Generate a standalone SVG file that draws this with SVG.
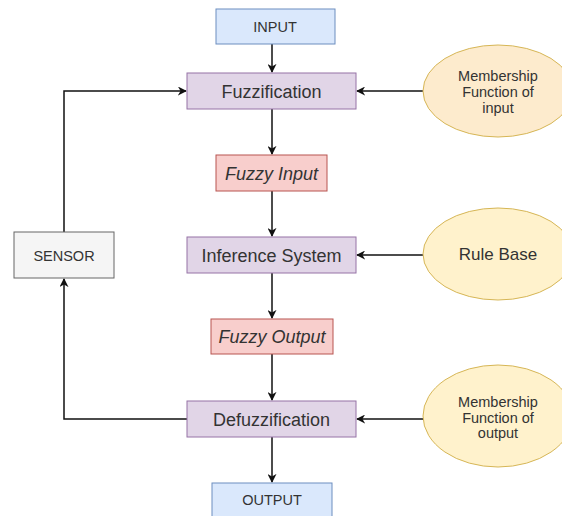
<svg xmlns="http://www.w3.org/2000/svg" width="562" height="516" viewBox="0 0 562 516">
  <style>
    text { font-family: "Liberation Sans", Arial, sans-serif; fill: #333333; text-anchor: middle; }
    .big { font-size: 18px; }
    .small { font-size: 14.5px; }
    .it { font-style: italic; }
    .io { fill: #dae8fc; stroke: #6c8ebf; stroke-width: 1; }
    .proc { fill: #e1d5e7; stroke: #9673a6; stroke-width: 1; }
    .fz { fill: #f8cecc; stroke: #b85450; stroke-width: 1; }
    .src { fill: #fff2cc; stroke: #d6b656; stroke-width: 1; }
    .sensor { fill: #f5f5f5; stroke: #666666; stroke-width: 1; }
    .edge { fill: none; stroke: #111111; stroke-width: 1.5; }
  </style>
  <defs>
    <marker id="arrow" viewBox="0 0 10 10" refX="9" refY="5" markerWidth="9" markerHeight="9" markerUnits="userSpaceOnUse" orient="auto">
      <path d="M0,0 L10,5 L0,10 L3,5 Z" fill="#111111"/>
    </marker>
  </defs>
  <rect width="562" height="516" fill="#ffffff"/>

  <!-- connectors -->
  <g id="connectors" class="edge" marker-end="url(#arrow)">
    <line x1="272" y1="44" x2="272" y2="72"/>
    <line x1="272" y1="109" x2="272" y2="154"/>
    <line x1="272" y1="191" x2="272" y2="236"/>
    <line x1="272" y1="273" x2="272" y2="318"/>
    <line x1="272" y1="354" x2="272" y2="400"/>
    <line x1="272" y1="437" x2="272" y2="482"/>
    <line x1="423" y1="91" x2="357" y2="91"/>
    <line x1="423" y1="255" x2="357" y2="255"/>
    <line x1="423" y1="419" x2="357" y2="419"/>
    <polyline points="64,232 64,91 186,91"/>
    <polyline points="187,419 64,419 64,279"/>
  </g>

  <g id="input">
    <rect class="io" x="216" y="9" width="119" height="35"/>
    <text class="small" x="275" y="31.5">INPUT</text>
  </g>

  <g id="fuzzification">
    <rect class="proc" x="187" y="73" width="169" height="36"/>
    <text class="big" x="271.5" y="97.5">Fuzzification</text>
  </g>

  <g id="fuzzy-input">
    <rect class="fz" x="216" y="155" width="111" height="36"/>
    <text class="big it" x="271.5" y="179.5">Fuzzy Input</text>
  </g>

  <g id="inference">
    <rect class="proc" x="187" y="237" width="169" height="36"/>
    <text class="big" x="271.5" y="261.5">Inference System</text>
  </g>

  <g id="fuzzy-output">
    <rect class="fz" x="211" y="319" width="122" height="35"/>
    <text class="big it" x="272" y="343">Fuzzy Output</text>
  </g>

  <g id="defuzzification">
    <rect class="proc" x="187" y="401" width="169" height="36"/>
    <text class="big" x="271.5" y="425.5">Defuzzification</text>
  </g>

  <g id="output">
    <rect class="io" x="212" y="483" width="120" height="36"/>
    <text class="small" x="272" y="505">OUTPUT</text>
  </g>

  <g id="sensor">
    <rect class="sensor" x="14" y="232" width="100" height="46"/>
    <text class="small" x="64" y="260.5">SENSOR</text>
  </g>

  <g id="mf-input">
    <ellipse class="src" cx="498" cy="91" rx="75" ry="46" style="fill:#fdebcd"/>
    <text class="small" x="498" y="81">Membership</text>
    <text class="small" x="498" y="97">Function of</text>
    <text class="small" x="498" y="112.5">input</text>
  </g>

  <g id="rule-base">
    <ellipse class="src" cx="498" cy="254" rx="75" ry="46"/>
    <text x="498" y="260" style="font-size:17px">Rule Base</text>
  </g>

  <g id="mf-output">
    <ellipse class="src" cx="498" cy="416" rx="75" ry="51"/>
    <text class="small" x="498" y="407">Membership</text>
    <text class="small" x="498" y="422.5">Function of</text>
    <text class="small" x="498" y="438">output</text>
  </g>
</svg>
